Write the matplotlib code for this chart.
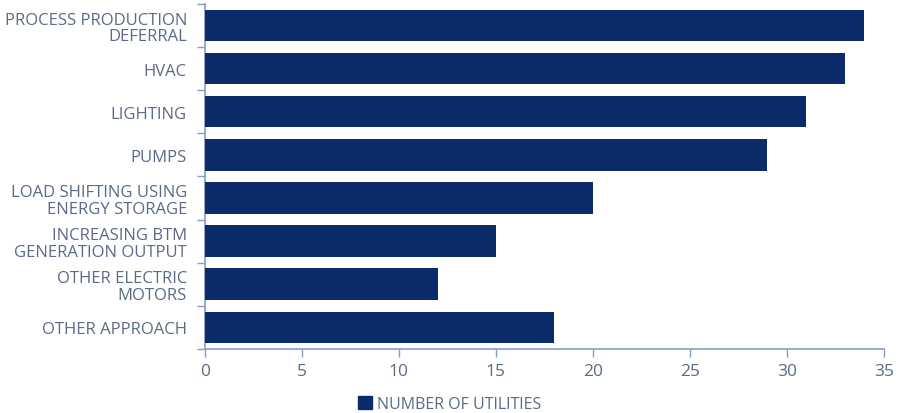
import numpy as np
import matplotlib
matplotlib.use('Agg')
import matplotlib.pyplot as plt
from matplotlib.patches import Patch

# === Data ===
categories = [
    'PROCESS PRODUCTION\nDEFERRAL',
    'HVAC',
    'LIGHTING',
    'PUMPS',
    'LOAD SHIFTING USING\nENERGY STORAGE',
    'INCREASING BTM\nGENERATION OUTPUT',
    'OTHER ELECTRIC\nMOTORS',
    'OTHER APPROACH',
]
utilities = [34, 33, 31, 29, 20, 15, 12, 18]
xticks = [0, 5, 10, 15, 20, 25, 30, 35]

BAR = '#0c2b6b'
AXIS = '#8a9cc0'
TEXT = '#5b6a88'

plt.rcParams['font.family'] = ['Open Sans', 'DejaVu Sans']

fig = plt.figure(figsize=(8.99, 4.14), dpi=100)
ax = fig.add_axes([0.228, 0.155, 0.755, 0.833])

y = np.arange(len(categories))
ax.barh(y, utilities, height=0.73, color=BAR, zorder=3)

ax.set_ylim(len(categories) - 0.55, -0.48)
ax.set_xlim(0, 35)
ax.set_xticks(xticks)
ax.set_yticks(y)
ax.set_yticklabels(categories, fontsize=12, color=TEXT, linespacing=1.08)
ax.tick_params(axis='y', length=0, pad=13)
# boundary ticks on the category axis
ax.set_yticks(np.arange(-0.5, len(categories), 1), minor=True)
ax.tick_params(axis='y', which='minor', length=6, color=AXIS, width=1)
ax.tick_params(axis='x', length=6, color=AXIS, width=1, labelsize=12.5,
               labelcolor=TEXT, pad=4)

for s in ['top', 'right']:
    ax.spines[s].set_visible(False)
for s in ['left', 'bottom']:
    ax.spines[s].set_color(AXIS)
    ax.spines[s].set_linewidth(1.2)

fig.legend(handles=[Patch(color=BAR, label='NUMBER OF UTILITIES')],
           loc='center', bbox_to_anchor=(0.5, 0.022), frameon=False,
           fontsize=11.5, labelcolor=TEXT, handlelength=0.9, handleheight=0.9,
           handletextpad=0.3, borderaxespad=0)

fig.savefig('out.png', dpi=100)
